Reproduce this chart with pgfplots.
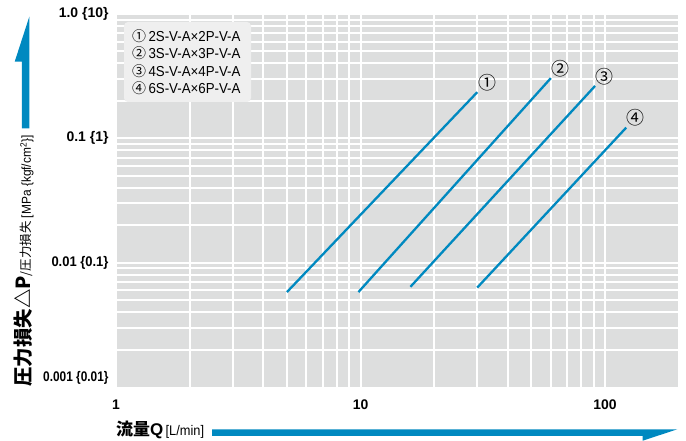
\documentclass[border=0pt]{standalone}
\usepackage{graphicx}
\usepackage{pgfplots}
\pgfplotsset{compat=1.18}
\usepackage{fontspec}
\setmainfont{Liberation Sans}
\newfontfamily\cond{Liberation Sans}[FakeStretch=0.92]
\newfontfamily\jp{Noto Sans CJK JP}
\definecolor{chartblue}{RGB}{0,137,192}
\definecolor{bggray}{RGB}{221,222,222}
\definecolor{leggray}{RGB}{239,239,239}
\newcommand{\fs}[1]{\fontsize{#1}{#1}\selectfont}
\begin{document}
\begin{tikzpicture}
\begin{scope}[x=1bp,y=-1bp,xshift=-116bp,yshift=387bp]
\useasboundingbox (0,0) rectangle (686,441);
\end{scope}
\begin{axis}[
  at={(0,0)}, anchor=south west,
  scale only axis, width=562.7bp, height=373bp,
  xmode=log, ymode=log, xmin=1, xmax=200, ymin=0.001, ymax=1,
  axis background/.style={fill=bggray},
  axis line style={draw=none},
  tick style={draw=none},
  grid=both,
  major grid style={white, line width=2bp},
  minor grid style={white, line width=2bp},
  xtick={1,10,100},
  xticklabels={\textbf{1},\textbf{10},\textbf{100}},
  minor xtick={2,3,4,5,6,7,8,9,20,30,40,50,60,70,80,90,200},
  ytick={0.01,0.1,1},
  yticklabels={\scalebox{0.93}[1]{\textbf{0.01 \{0.1\}}},\textbf{0.1 \{1\}},\textbf{1.0 \{10\}}},
  minor ytick={0.002,0.003,0.004,0.005,0.006,0.007,0.008,0.009,0.02,0.03,0.04,0.05,0.06,0.07,0.08,0.09,0.2,0.3,0.4,0.5,0.6,0.7,0.8,0.9},
  extra y ticks={0.001},
  extra y tick labels={\scalebox{0.85}[1]{\textbf{0.001 \{0.01\}}}},
  extra y tick style={grid=none, yticklabel style={yshift=9bp}},
  xticklabel style={font=\fs{14}, yshift=-9bp},
  yticklabel style={font=\fs{14}, xshift=-4bp},
  clip=false,
]
\addplot[chartblue, line width=2.3bp] coordinates {(5,0.0058) (30,0.235)};
\addplot[chartblue, line width=2.3bp] coordinates {(9.8,0.0058) (60,0.305)};
\addplot[chartblue, line width=2.3bp] coordinates {(16,0.0064) (91,0.264)};
\addplot[chartblue, line width=2.3bp] coordinates {(30,0.0063) (122,0.122)};
\node[font=\jp\fs{18}, inner sep=0] at (axis cs:33.1,0.28) {①};
\node[font=\jp\fs{18}, inner sep=0] at (axis cs:65.9,0.366) {②};
\node[font=\jp\fs{18}, inner sep=0] at (axis cs:99.3,0.313) {③};
\node[font=\jp\fs{18}, inner sep=0] at (axis cs:133,0.1475) {④};
\end{axis}
\begin{scope}[x=1bp,y=-1bp,xshift=-116bp,yshift=387bp]
% legend box
\fill[leggray, rounded corners=4bp] (124,22) rectangle (251,102);
\node[anchor=base west, inner sep=0] at (132,41.7) {{\jp\fs{14}①}{\cond\fs{14.5}\,2S-V-A×2P-V-A}};
\node[anchor=base west, inner sep=0] at (132,59.0) {{\jp\fs{14}②}{\cond\fs{14.5}\,3S-V-A×3P-V-A}};
\node[anchor=base west, inner sep=0] at (132,76.3) {{\jp\fs{14}③}{\cond\fs{14.5}\,4S-V-A×4P-V-A}};
\node[anchor=base west, inner sep=0] at (132,93.5) {{\jp\fs{14}④}{\cond\fs{14.5}\,6S-V-A×6P-V-A}};
% y arrow
\fill[chartblue] (29.3,16.7) -- (29.3,128.3) -- (22,128.3) -- (22,61.7) -- (14.7,61.7) -- cycle;
% x arrow
\fill[chartblue] (212,429.3) -- (677.3,429.3) -- (642.7,440.7) -- (642.7,436) -- (212,436) -- cycle;
% y label
\node[rotate=90, anchor=base west, inner sep=0] at (31,386.7)
  {{\jp\bfseries\fs{19.5}圧力損失△P}{\jp\fs{12.5}/圧力損失}{\cond\fs{13} [MPa \{kgf/cm\textsuperscript{2}\}]}};
% x label
\node[anchor=base west, inner sep=0] at (116,435.5)
  {{\jp\bfseries\fs{17}流量}{\bfseries\fs{17}Q}{\cond\fs{14}\,[L/min]}};
\end{scope}
\end{tikzpicture}
\end{document}
